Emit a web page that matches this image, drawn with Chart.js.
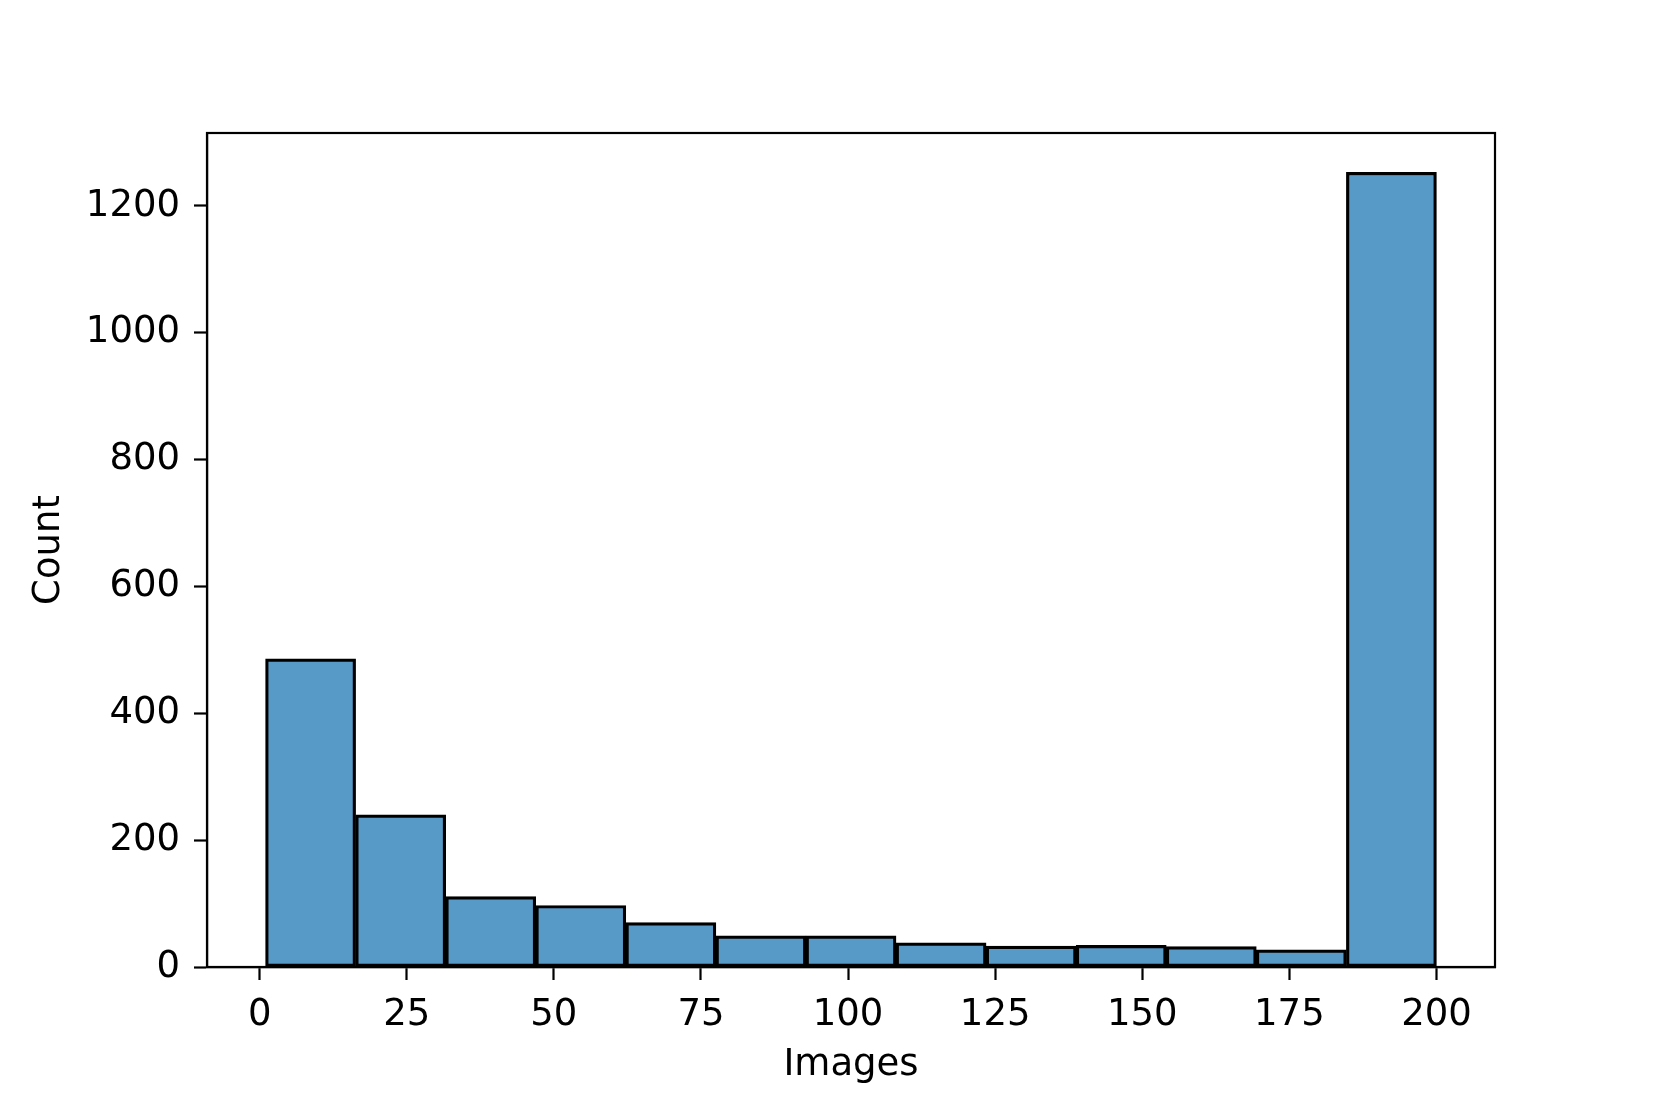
<!DOCTYPE html>
<html>
<head>
<meta charset="utf-8">
<script src="https://cdn.jsdelivr.net/npm/chart.js@4.4.0/dist/chart.umd.min.js"></script>
<style>
  html, body { margin: 0; padding: 0; background: #fff; }
  canvas { display: block; }
</style>
</head>
<body>
<canvas id="histChart" width="1661" height="1107"></canvas>
<script>
// histogram bins (Images) and counts
const binEdges = [1, 16.31, 31.62, 46.92, 62.23, 77.54, 92.85, 108.15, 123.46, 138.77, 154.08, 169.38, 184.69, 200];
const counts = [486, 240, 111, 97, 70, 49, 49, 38, 33, 34, 32, 27, 1253];
const xTicks = [0, 25, 50, 75, 100, 125, 150, 175, 200];
const yTicks = [0, 200, 400, 600, 800, 1000, 1200];

const points = counts.map(function (c, i) {
  return { x: (binEdges[i] + binEdges[i + 1]) / 2, y: c };
});

// top + right spines
const frame = {
  id: "frame",
  afterDatasetsDraw(chart) {
    const a = chart.chartArea;
    const c = chart.ctx;
    c.save();
    c.strokeStyle = "#000";
    c.lineWidth = 2.2;
    c.strokeRect(a.left, a.top, a.right - a.left, a.bottom - a.top);
    c.restore();
  },
};

const tickFont = { family: "DejaVu Sans", size: 37 };
const plain = function (v) { return String(v); };

const ctx = document.getElementById("histChart").getContext("2d");
new Chart(ctx, {
  type: "bar",
  data: {
    datasets: [
      {
        label: "Count",
        data: points,
        backgroundColor: "#5799c7",
        borderColor: "#000",
        borderWidth: 3.2,
        borderSkipped: false,
        barPercentage: 1,
        categoryPercentage: 1,
      },
    ],
  },
  options: {
    responsive: false,
    animation: false,
    layout: { padding: { top: 133, right: 166, left: 0, bottom: 0 } },
    plugins: { legend: { display: false }, tooltip: { enabled: false } },
    scales: {
      x: {
        type: "linear",
        offset: false,
        min: -8.95,
        max: 209.95,
        afterBuildTicks: function (s) {
          s.ticks = xTicks.map(function (v) { return { value: v }; });
        },
        afterFit: function (s) { s.height = 140; },
        grid: { drawOnChartArea: false, drawTicks: true, tickLength: 13, tickWidth: 2.2, tickColor: "#000", offset: false },
        border: { display: true, color: "#000", width: 2.2 },
        ticks: { color: "#000", font: tickFont, padding: 13, maxRotation: 0, callback: plain },
        title: { display: true, text: "Images", color: "#000", font: tickFont, padding: { top: 4, bottom: 19 } },
      },
      y: {
        min: 0,
        max: 1315,
        afterBuildTicks: function (s) {
          s.ticks = yTicks.map(function (v) { return { value: v }; });
        },
        afterFit: function (s) { s.width = 207; },
        grid: { drawOnChartArea: false, drawTicks: true, tickLength: 13, tickWidth: 2.2, tickColor: "#000" },
        border: { display: true, color: "#000", width: 2.2 },
        ticks: { color: "#000", font: tickFont, padding: 14, callback: plain },
        title: { display: true, text: "Count", color: "#000", font: tickFont, padding: { top: 27, bottom: 0 } },
      },
    },
  },
  plugins: [frame],
});
</script>
</body>
</html>
